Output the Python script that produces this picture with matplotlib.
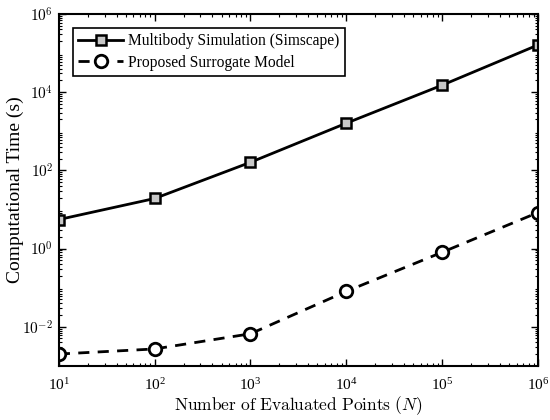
import matplotlib
matplotlib.use("Agg")
import matplotlib.pyplot as plt

plt.rcParams["font.family"] = ["Liberation Serif", "DejaVu Serif"]
plt.rcParams["mathtext.fontset"] = "cm"

n_points = [1e1, 1e2, 1e3, 1e4, 1e5, 1e6]
time_simscape = [5.5, 19, 160, 1600, 15000, 160000]
time_surrogate = [0.002, 0.0027, 0.0066, 0.08, 0.8, 8.3]

fig = plt.figure(figsize=(5.5, 4.2), dpi=100)
ax = fig.add_axes((0.107, 0.129, 0.871, 0.838))

ax.plot(n_points, time_simscape, "-", color="black", linewidth=2.0,
        marker="s", markersize=7, markerfacecolor="#c8c8c8",
        markeredgecolor="black", markeredgewidth=1.8,
        label="Multibody Simulation (Simscape)")
ax.plot(n_points, time_surrogate, "--", color="black", linewidth=2.0,
        dashes=(4, 3), marker="o", markersize=9, markerfacecolor="white",
        markeredgecolor="black", markeredgewidth=2.0,
        label="Proposed Surrogate Model")

ax.set_xscale("log")
ax.set_yscale("log")
ax.set_xlim(1e1, 1e6)
ax.set_ylim(1e-3, 1e6)
ax.set_xticks([1e1, 1e2, 1e3, 1e4, 1e5, 1e6])
ax.set_yticks([1e-2, 1e0, 1e2, 1e4, 1e6])
ax.set_yticklabels([r"$10^{\mathrm{-}2}$", r"$10^{0}$", r"$10^{2}$", r"$10^{4}$", r"$10^{6}$"])

ax.tick_params(which="both", direction="in", top=True, right=True, labelsize=11)
ax.tick_params(which="major", length=5, width=1.0)
ax.tick_params(which="minor", length=2.5, width=0.8)
ax.tick_params(axis="x", pad=8)
ax.tick_params(axis="y", pad=4)
for spine in ax.spines.values():
    spine.set_linewidth(1.5)

ax.set_xlabel(r"$\mathrm{Number\ of\ Evaluated\ Points}\ (N)$", fontsize=12.5, labelpad=1)
ax.set_ylabel("Computational Time (s)", fontsize=14)
ax.yaxis.set_label_coords(-0.073, 0.5)

leg = ax.legend(loc="upper left", fontsize=11.2, fancybox=False, framealpha=1,
                edgecolor="black", handlelength=2.9, borderaxespad=0.9,
                borderpad=0.35, labelspacing=0.35, handletextpad=0.3)
leg.get_frame().set_linewidth(1.2)

fig.savefig("out.png", dpi=100)
